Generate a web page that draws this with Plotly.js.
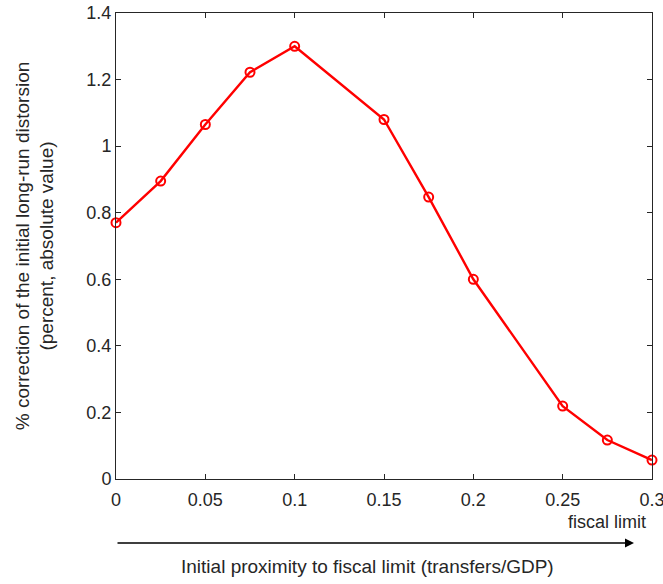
<!DOCTYPE html>
<html>
<head>
<meta charset="utf-8">
<script src="https://cdn.plot.ly/plotly-3.0.1.min.js"></script>
<style>html,body{margin:0;padding:0;background:#fff;}#chart{width:663px;height:584px;}</style>
</head>
<body>
<div id="chart"></div>
<script>
const proximity = [0, 0.025, 0.05, 0.075, 0.1, 0.15, 0.175, 0.2, 0.25, 0.275, 0.3];
const correction = [0.77, 0.895, 1.065, 1.222, 1.30, 1.08, 0.847, 0.60, 0.219, 0.117, 0.057];
const xTicks = [0, 0.05, 0.1, 0.15, 0.2, 0.25, 0.3];
const xTickText = ['0', '0.05', '0.1', '0.15', '0.2', '0.25', '0.3'];
const yTicks = [0, 0.2, 0.4, 0.6, 0.8, 1, 1.2, 1.4];
const yTickText = ['0', '0.2', '0.4', '0.6', '0.8', '1', '1.2', '1.4'];

const fam = 'Liberation Sans, Arial, Helvetica, sans-serif';
const font = {family: fam, size: 18, color: '#262626'};
const labelFont = {family: fam, size: 19, color: '#262626'};

const trace = {
  x: proximity, y: correction, type: 'scatter', mode: 'lines+markers',
  line: {color: '#ff0000', width: 2.4},
  marker: {symbol: 'circle-open', size: 9, color: '#ff0000', line: {width: 2, color: '#ff0000'}},
  showlegend: false, cliponaxis: false
};

const axisCommon = {
  showline: true, linecolor: '#262626', linewidth: 1, mirror: 'ticks',
  ticks: 'inside', ticklen: 5, tickcolor: '#262626', tickwidth: 1,
  showgrid: false, zeroline: false, tickfont: font, ticklabeloverflow: 'allow'
};

const layout = {
  width: 663, height: 584,
  margin: {l: 116, r: 11, t: 13, b: 105},
  paper_bgcolor: '#fff', plot_bgcolor: '#fff',
  font: font,
  xaxis: Object.assign({}, axisCommon, {range: [0, 0.3], tickvals: xTicks, ticktext: xTickText, ticklabelstandoff: 4}),
  yaxis: Object.assign({}, axisCommon, {range: [0, 1.4], tickvals: yTicks, ticktext: yTickText,
    title: {text: '% correction of the initial long-run distorsion<br>(percent, absolute value)', font: labelFont, standoff: 27}}),
  annotations: [
    {xref: 'paper', yref: 'paper', x: (607 - 116) / 536, y: (479 - 522) / 466, xanchor: 'center', yanchor: 'middle',
     text: 'fiscal limit', showarrow: false, font: font},
    {xref: 'paper', yref: 'paper', x: (367 - 116) / 536, y: (479 - 566) / 466, xanchor: 'center', yanchor: 'middle',
     text: 'Initial proximity to fiscal limit (transfers/GDP)', showarrow: false, font: labelFont},
    {xref: 'paper', yref: 'paper', axref: 'paper', ayref: 'paper', x: (634 - 116) / 536, y: (479 - 543) / 466, ax: 0, ay: (479 - 543) / 466,
     text: '', showarrow: true, arrowhead: 2, arrowsize: 1.2, arrowwidth: 1.5, arrowcolor: '#000'}
  ]
};

Plotly.newPlot('chart', [trace], layout, {displayModeBar: false, staticPlot: true});
</script>
</body>
</html>
